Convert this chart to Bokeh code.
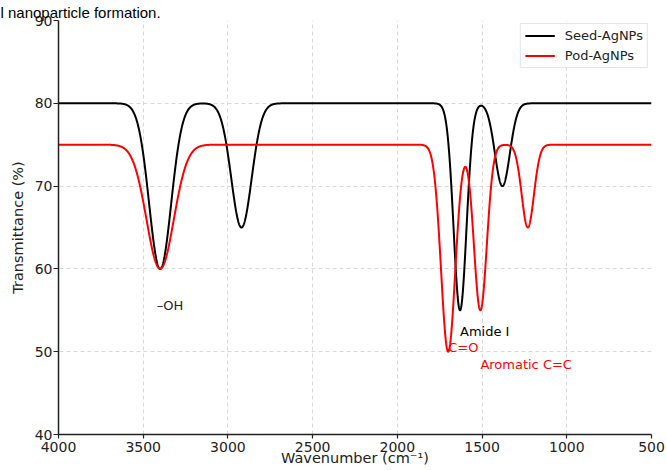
import numpy as np
from bokeh.plotting import figure
from bokeh.models import Range1d, Label, FixedTicker
from bokeh.embed import file_html
from bokeh.resources import INLINE

# ---- data (peak centre, depth below baseline, width) ----
seed_name = "Seed-AgNPs"
seed_baseline = 80.0
seed_centers = [3400, 2920, 1630, 1380]
seed_depths = [20.0, 15.0, 25.0, 10.0]
seed_sigmas = [65, 60, 38, 44]

pod_name = "Pod-AgNPs"
pod_baseline = 75.0
pod_centers = [3400, 1700, 1510, 1230]
pod_depths = [15.0, 25.0, 20.0, 10.0]
pod_sigmas = [80, 42, 38, 36]

x_ticks = [4000, 3500, 3000, 2500, 2000, 1500, 1000, 500]
y_ticks = [40, 50, 60, 70, 80, 90]

annotations = [
    ("–OH", 3420, 55.6, "#222222"),
    ("Amide I", 1630, 52.5, "black"),
    ("C=O", 1700, 50.5, "red"),
    ("Aromatic C=C", 1510, 48.5, "red"),
]

caption = "l nanoparticle formation."

wn = np.linspace(4000, 500, 3501)


def spectrum(baseline, centers, depths, sigmas):
    y = np.full_like(wn, baseline)
    for c, d, s in zip(centers, depths, sigmas):
        y -= d * np.exp(-((wn - c) ** 2) / (2.0 * s ** 2))
    return y


seed_y = spectrum(seed_baseline, seed_centers, seed_depths, seed_sigmas)
pod_y = spectrum(pod_baseline, pod_centers, pod_depths, pod_sigmas)

FONT = "DejaVu Sans"

p = figure(width=667, height=470, output_backend="svg", toolbar_location=None,
           x_range=Range1d(4000, 500), y_range=Range1d(40, 90),
           min_border_left=58, min_border_right=16, min_border_top=20,
           min_border_bottom=36)
p.outline_line_color = None
p.background_fill_color = "white"
p.border_fill_color = "white"

# clipped caption fragment of the source screenshot
p.title.text = caption
p.title.align = "left"
p.title.offset = -58
p.title.standoff = 0
p.title.text_font = "Liberation Sans"
p.title.text_font_size = "15px"
p.title.text_font_style = "normal"
p.title.text_color = "black"

p.line(wn, seed_y, color="black", line_width=2, legend_label=seed_name)
p.line(wn, pod_y, color="red", line_width=2, legend_label=pod_name)

for ax in (p.xaxis[0], p.yaxis[0]):
    ax.axis_line_color = "#222222"
    ax.axis_line_width = 1.5
    ax.major_tick_line_color = "#222222"
    ax.major_tick_line_width = 1.2
    ax.minor_tick_line_color = None
    ax.major_tick_in = 0
    ax.major_label_text_font = FONT
    ax.major_label_text_font_size = "14px"
    ax.major_label_text_color = "#222222"
    ax.axis_label_text_font = FONT
    ax.axis_label_text_font_size = "14.5px"
    ax.axis_label_text_font_style = "normal"
    ax.axis_label_text_color = "#222222"

p.xaxis.ticker = FixedTicker(ticks=x_ticks)
p.yaxis.ticker = FixedTicker(ticks=y_ticks)
p.xaxis.major_tick_out = 4
p.yaxis.major_tick_out = 5
p.xaxis.major_label_standoff = 3
p.yaxis.major_label_standoff = 1

p.yaxis.axis_label = "Transmittance (%)"
p.yaxis.axis_label_standoff = 6
p.xaxis.axis_label = "Wavenumber (cm⁻¹)"
p.xaxis.axis_label_standoff = -5

p.xgrid.grid_line_color = "#d9d9d9"
p.ygrid.grid_line_color = "#d9d9d9"
p.xgrid.grid_line_dash = "4 3"
p.ygrid.grid_line_dash = "4 3"
p.xgrid.grid_line_width = 1
p.ygrid.grid_line_width = 1

for txt, xx, yy, col in annotations:
    p.add_layout(Label(x=xx, y=yy, text=txt, text_align="left",
                       text_baseline="middle", text_font=FONT,
                       text_font_size="13px", text_color=col))

lg = p.legend[0]
lg.location = "top_right"
lg.margin = 3
lg.padding = 4
lg.spacing = 5
lg.label_height = 15
lg.glyph_height = 15
lg.glyph_width = 30
lg.label_standoff = 10
lg.label_text_font = FONT
lg.label_text_font_size = "13px"
lg.label_text_color = "#222222"
lg.border_line_color = "#cccccc"
lg.border_line_width = 1
lg.background_fill_alpha = 0.9

open("out.html", "w").write(file_html(p, INLINE))
